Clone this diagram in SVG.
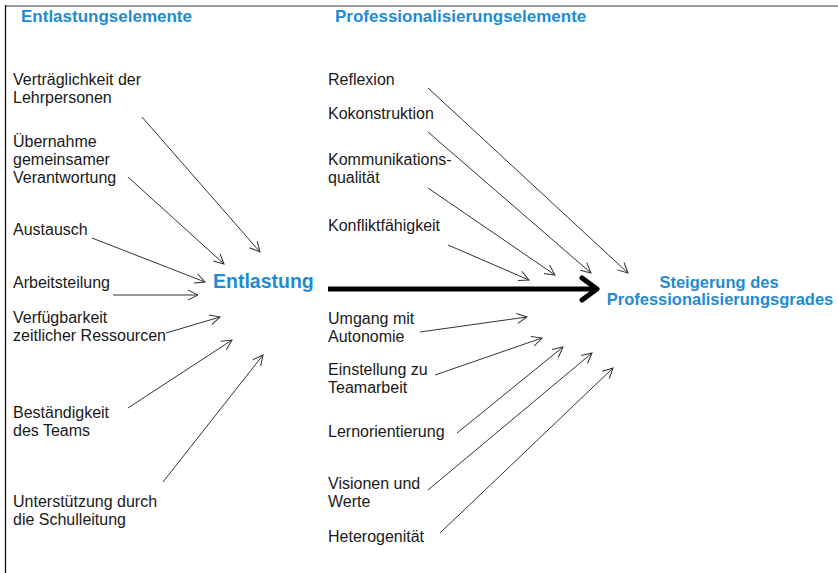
<svg xmlns="http://www.w3.org/2000/svg" width="838" height="573" viewBox="0 0 838 573">
<style>
.t{font-family:"Liberation Sans",Arial,sans-serif;font-size:16px;fill:#1a1a1a}
.h{font-family:"Liberation Sans",Arial,sans-serif;font-weight:bold;fill:#1e8bd3}
.c{stroke:#333;stroke-width:1;fill:none;marker-end:url(#a)}
</style>
<defs>
<marker id="a" viewBox="0 0 12 12" refX="11" refY="6" markerWidth="12" markerHeight="12" markerUnits="userSpaceOnUse" orient="auto">
<path d="M1,1 L11,6 L1,11" fill="none" stroke="#333" stroke-width="1"/>
</marker>
</defs>
<rect width="838" height="573" fill="#fff"/>
<line x1="5" y1="6" x2="838" y2="6" stroke="#999" stroke-width="2"/>
<line x1="5.5" y1="5" x2="5.5" y2="573" stroke="#000" stroke-width="1.2"/>

<g id="headers">
<text class="h" x="21" y="22" font-size="17">Entlastungselemente</text>
<text class="h" x="335" y="22" font-size="17">Professionalisierungselemente</text>
</g>

<g id="entlastung"><text class="h" x="213" y="288" font-size="19.5">Entlastung</text></g>
<g id="steigerung">
<text class="h" x="719" y="288" font-size="16.5" text-anchor="middle">Steigerung des</text>
<text class="h" x="720" y="305" font-size="16.5" text-anchor="middle">Professionalisierungsgrades</text>
</g>

<g id="e1"><text class="t" x="13" y="85">Verträglichkeit der</text><text class="t" x="13" y="103">Lehrpersonen</text></g>
<g id="e2"><text class="t" x="13" y="147">Übernahme</text><text class="t" x="13" y="165">gemeinsamer</text><text class="t" x="13" y="183">Verantwortung</text></g>
<g id="e3"><text class="t" x="13" y="235">Austausch</text></g>
<g id="e4"><text class="t" x="13" y="288">Arbeitsteilung</text></g>
<g id="e5"><text class="t" x="13" y="323">Verfügbarkeit</text><text class="t" x="13" y="341">zeitlicher Ressourcen</text></g>
<g id="e6"><text class="t" x="13" y="418">Beständigkeit</text><text class="t" x="13" y="436">des Teams</text></g>
<g id="e7"><text class="t" x="13" y="507">Unterstützung durch</text><text class="t" x="13" y="525">die Schulleitung</text></g>

<g id="p1"><text class="t" x="328" y="85">Reflexion</text></g>
<g id="p2"><text class="t" x="328" y="119">Kokonstruktion</text></g>
<g id="p3"><text class="t" x="328" y="165">Kommunikations-</text><text class="t" x="328" y="183">qualität</text></g>
<g id="p4"><text class="t" x="328" y="231">Konfliktfähigkeit</text></g>
<g id="p5"><text class="t" x="328" y="324">Umgang mit</text><text class="t" x="328" y="342">Autonomie</text></g>
<g id="p6"><text class="t" x="328" y="375">Einstellung zu</text><text class="t" x="328" y="393">Teamarbeit</text></g>
<g id="p7"><text class="t" x="328" y="437">Lernorientierung</text></g>
<g id="p8"><text class="t" x="328" y="489">Visionen und</text><text class="t" x="328" y="507">Werte</text></g>
<g id="p9"><text class="t" x="328" y="542">Heterogenität</text></g>

<g id="connectors">
<line class="c" x1="142" y1="117" x2="260" y2="252"/>
<line class="c" x1="128" y1="177" x2="224" y2="264"/>
<line class="c" x1="92" y1="238" x2="205" y2="282"/>
<line class="c" x1="113" y1="295" x2="198" y2="295"/>
<line class="c" x1="166" y1="333" x2="220" y2="317"/>
<line class="c" x1="128" y1="408" x2="232" y2="340"/>
<line class="c" x1="163" y1="482" x2="263" y2="355"/>
<line class="c" x1="428" y1="88" x2="628" y2="273"/>
<line class="c" x1="428" y1="132" x2="591" y2="273"/>
<line class="c" x1="428" y1="188" x2="555" y2="275"/>
<line class="c" x1="448" y1="245" x2="529" y2="280"/>
<line class="c" x1="420" y1="332" x2="527" y2="317"/>
<line class="c" x1="435" y1="375" x2="542" y2="338"/>
<line class="c" x1="457" y1="433" x2="563" y2="347"/>
<line class="c" x1="428" y1="490" x2="592" y2="353"/>
<line class="c" x1="440" y1="533" x2="613" y2="368"/>
<line x1="328" y1="289" x2="594" y2="289" stroke="#000" stroke-width="5"/>
<path d="M582,278 L597,289 L582,300" fill="none" stroke="#000" stroke-width="5" stroke-linecap="round" stroke-linejoin="round"/>
</g>
</svg>
